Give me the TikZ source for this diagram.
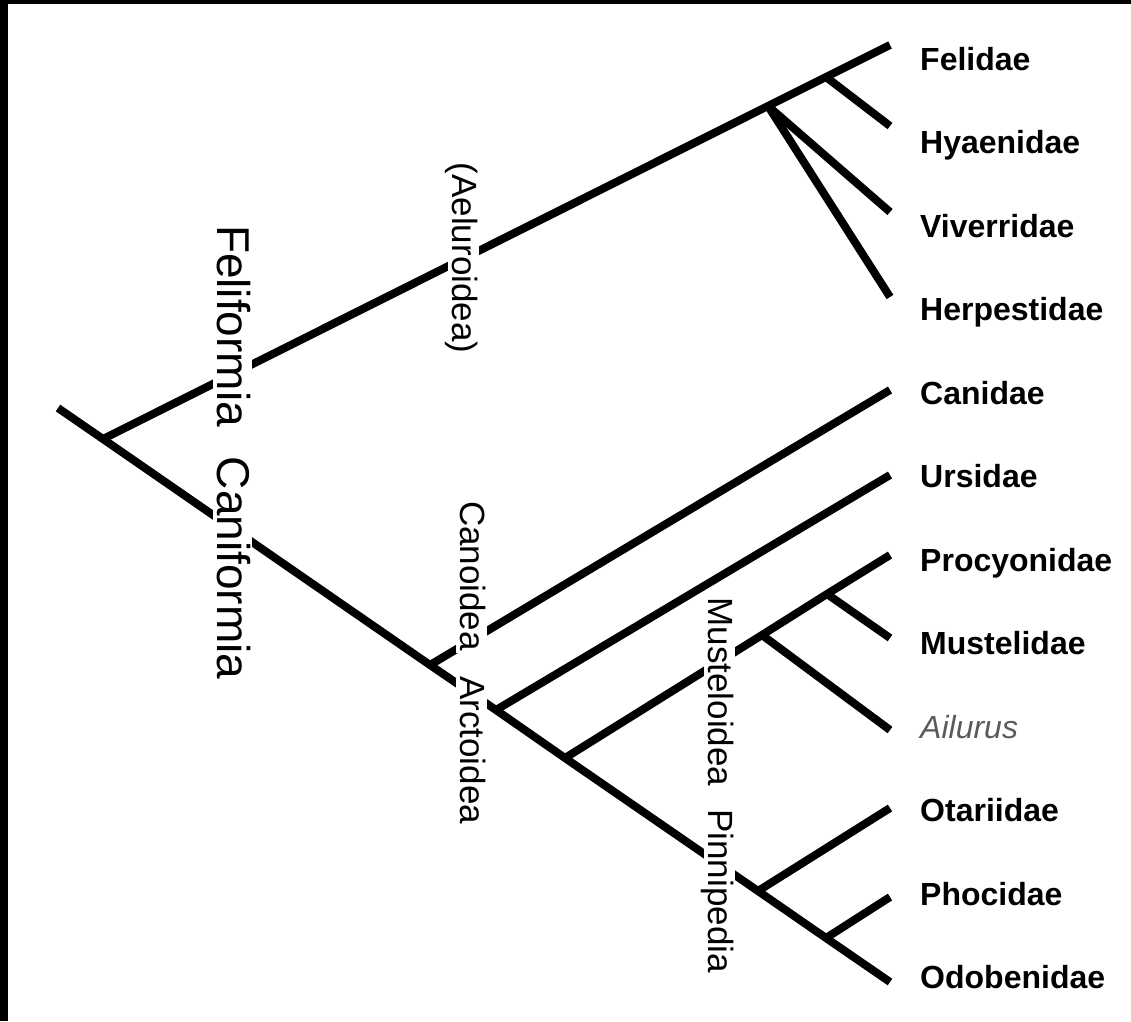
\documentclass[tikz,border=0pt]{standalone}
\usepackage{fontspec}
\setmainfont{Liberation Sans}
\usetikzlibrary{positioning, calc}
\definecolor{treeink}{HTML}{000000}
\definecolor{ailurusgray}{HTML}{5A5A5A}

\begin{document}
\begin{tikzpicture}[
  x=1pt, y=-1pt,
  branch/.style={line width=8pt, treeink},
  taxon/.style={anchor=base west, inner sep=0pt,
    font=\fontsize{32}{38}\selectfont\bfseries},
  grouplabel/.style={rotate=-90, anchor=base, fill=white,
    inner xsep=2pt, inner ysep=2pt, text depth=0.25em,
    font=\fontsize{35}{42}\selectfont},
  orderlabel/.style={grouplabel, font=\fontsize{46}{54}\selectfont}
]
  % Frame and page
  \useasboundingbox (0,0) rectangle (1131,1021);
  \fill[white] (0,0) rectangle (1131,1021);
  \fill[black] (0,0) rectangle (1131,4);
  \fill[black] (0,0) rectangle (8,1021);

  % Branch points
  \coordinate (stem) at (58,408);
  \coordinate (root) at (103,439);
  \coordinate (canoid) at (430,665);
  \coordinate (arctoid) at (496,710);
  \coordinate (mustpinn) at (565,758);
  \coordinate (pinni) at (758,891);
  \coordinate (phoc) at (826,938);
  \coordinate (aelur) at (768,106);
  \coordinate (hyaen) at (826,77);
  \coordinate (mustel) at (762,635);
  \coordinate (procy) at (827,594);

  % Tips
  \coordinate (tFel) at (890,45);
  \coordinate (tHya) at (890,126);
  \coordinate (tViv) at (890,212);
  \coordinate (tHer) at (890,297);
  \coordinate (tCan) at (890,390);
  \coordinate (tUrs) at (890,475);
  \coordinate (tPro) at (890,555);
  \coordinate (tMus) at (890,638);
  \coordinate (tAil) at (890,730);
  \coordinate (tOta) at (890,808);
  \coordinate (tPho) at (890,897);
  \coordinate (tOdo) at (890,982);

  % Feliform side
  \draw[branch] (root) -- (aelur) -- (hyaen) -- (tFel);
  \draw[branch] (hyaen) -- (tHya);
  \draw[branch] (aelur) -- (tViv);
  \draw[branch] (aelur) -- (tHer);

  % Caniform side
  \draw[branch] (stem) -- (root) -- (canoid) -- (arctoid) -- (mustpinn)
    -- (pinni) -- (phoc) -- (tOdo);
  \draw[branch] (canoid) -- (tCan);
  \draw[branch] (arctoid) -- (tUrs);
  \draw[branch] (mustpinn) -- (mustel) -- (procy) -- (tPro);
  \draw[branch] (procy) -- (tMus);
  \draw[branch] (mustel) -- (tAil);
  \draw[branch] (pinni) -- (tOta);
  \draw[branch] (phoc) -- (tPho);

  % Clade labels
  \node[orderlabel] (feliformia) at (217,326) {Feliformia};
  \node[orderlabel] (caniformia) at (217,568) {Caniformia};
  \node[grouplabel] (aeluroidea) at (452,258) {(Aeluroidea)};
  \node[grouplabel] (canoidea) at (460,576) {Canoidea};
  \node[grouplabel] (arctoidea) at (460,750) {Arctoidea};
  \node[grouplabel] (musteloidea) at (708,692) {Musteloidea};
  \node[grouplabel] (pinnipedia) at (708,891) {Pinnipedia};

  % Families
  \node[taxon] (felidae) at (920,70) {Felidae};
  \node[taxon] (hyaenidae) at (920,153) {Hyaenidae};
  \node[taxon] (viverridae) at (920,237) {Viverridae};
  \node[taxon] (herpestidae) at (920,320) {Herpestidae};
  \node[taxon] (canidae) at (920,404) {Canidae};
  \node[taxon] (ursidae) at (920,487) {Ursidae};
  \node[taxon] (procyonidae) at (920,571) {Procyonidae};
  \node[taxon] (mustelidae) at (920,654) {Mustelidae};
  \node[taxon, font=\fontsize{32}{38}\selectfont\itshape, text=ailurusgray]
    (ailurus) at (920,738) {Ailurus};
  \node[taxon] (otariidae) at (920,821) {Otariidae};
  \node[taxon] (phocidae) at (920,905) {Phocidae};
  \node[taxon] (odobenidae) at (920,988) {Odobenidae};
\end{tikzpicture}
\end{document}
